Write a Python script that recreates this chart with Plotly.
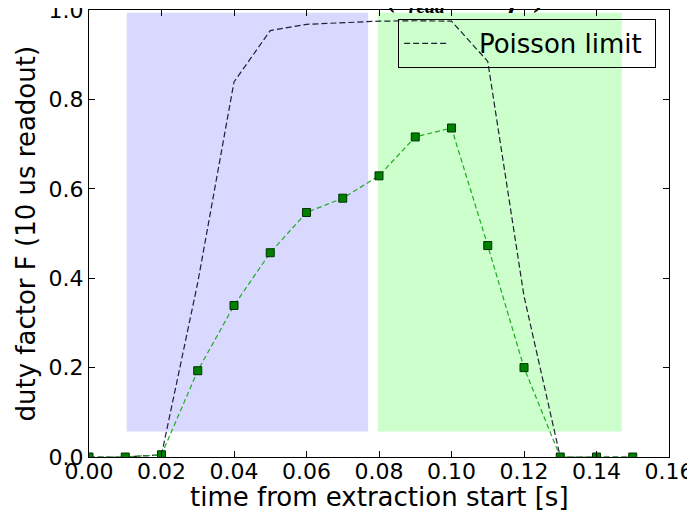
import plotly.graph_objects as go

# ---- data ----
time_s = [0.00, 0.01, 0.02, 0.03, 0.04, 0.05, 0.06, 0.07, 0.08, 0.09, 0.10,
          0.11, 0.12, 0.13, 0.14, 0.15]
duty_measured = [0.0, 0.0, 0.005, 0.193, 0.339, 0.457, 0.547, 0.579, 0.629,
                 0.716, 0.736, 0.473, 0.200, 0.0, 0.0, 0.0]
duty_poisson = [0.0, 0.0, 0.005, 0.39, 0.839, 0.954, 0.968, 0.972, 0.975,
                0.976, 0.975, 0.885, 0.36, 0.0, 0.0, 0.0]

blue_region = [0.0104, 0.0770, 0.057, 0.994]   # x0, x1, y0, y1
green_region = [0.0797, 0.1470, 0.057, 0.994]

x_ticks = [0.00, 0.02, 0.04, 0.06, 0.08, 0.10, 0.12, 0.14, 0.16]
x_tick_labels = ["0.00", "0.02", "0.04", "0.06", "0.08", "0.10", "0.12", "0.14", "0.16"]
y_ticks = [0.0, 0.2, 0.4, 0.6, 0.8, 1.0]
y_tick_labels = ["0.0", "0.2", "0.4", "0.6", "0.8", "1.0"]

FONT = "DejaVu Sans"
NB = "\u00a0"

fig = go.Figure()

fig.add_trace(go.Scatter(
    x=time_s, y=duty_poisson, mode="lines", name=NB * 3 + "Poisson limit" + NB,
    line=dict(color="rgba(10,10,30,0.9)", width=1.2, dash="6px,3px"),
))
fig.add_trace(go.Scatter(
    x=time_s, y=duty_measured, mode="lines+markers", showlegend=False,
    line=dict(color="#22aa22", width=1.2, dash="5px,3px"),
    marker=dict(symbol="square", size=8, color="#008000",
                line=dict(color="#003300", width=1)),
))

for reg, col in [(blue_region, "#d9d9ff"), (green_region, "#ccffcc")]:
    fig.add_shape(type="rect", xref="x", yref="y", x0=reg[0], x1=reg[1],
                  y0=reg[2], y1=reg[3], fillcolor=col, line=dict(width=0),
                  layer="below")

# partially visible title (cut off at the top of the picture)
fig.add_annotation(
    xref="paper", yref="paper", x=0.65, y=1.0, xanchor="center", yanchor="bottom",
    text="<b><i>(τ<sub>read</sub> = 10 μs)</i></b>", showarrow=False,
    font=dict(family="Liberation Serif", size=28, color="black"), yshift=-9,
)

# axis titles
fig.add_annotation(
    xref="paper", yref="paper", x=0.5, y=-40 / 447, xanchor="center", yanchor="middle",
    text="time from extraction start [s]", showarrow=False,
    font=dict(family=FONT, size=26, color="black"),
)
fig.add_annotation(
    xref="paper", yref="paper", x=-64 / 580, y=0.5, xanchor="center", yanchor="middle",
    text="duty factor F (10 us readout)", showarrow=False, textangle=-90,
    font=dict(family=FONT, size=26, color="black"),
)

axis_common = dict(
    showline=True, linecolor="black", linewidth=1, mirror="allticks",
    ticks="inside", ticklen=6, tickcolor="black", showgrid=False, zeroline=False,
    automargin=False, ticklabeloverflow="allow",
    tickfont=dict(family=FONT, size=22, color="black"),
)

fig.update_xaxes(range=[0, 0.16], tickvals=x_ticks, ticktext=x_tick_labels,
                 ticklabelstandoff=-5, **axis_common)
fig.update_yaxes(range=[0, 1.0], tickvals=y_ticks, ticktext=y_tick_labels,
                 **axis_common)

fig.update_layout(
    width=695, height=518,
    margin=dict(l=81, r=34, t=2, b=69),
    paper_bgcolor="white", plot_bgcolor="white",
    legend=dict(x=0.533, y=0.98, xanchor="left", yanchor="top", itemwidth=45,
                bgcolor="rgba(0,0,0,0)", bordercolor="black", borderwidth=1,
                font=dict(family=FONT, size=26, color="black")),
)

fig.write_html("out.html")
